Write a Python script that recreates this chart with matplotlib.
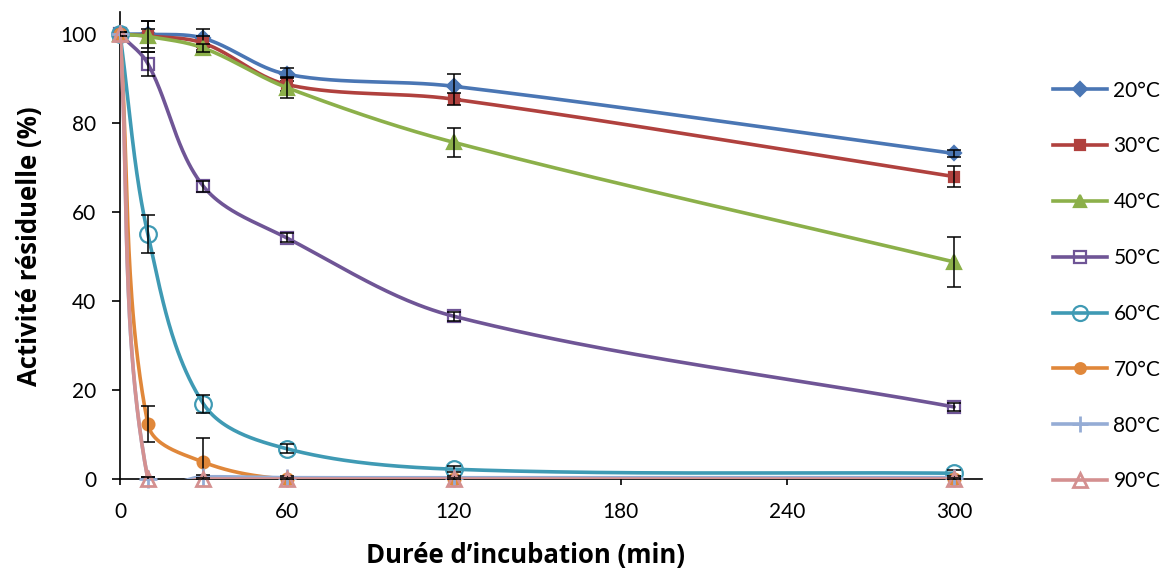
import numpy as np
import matplotlib
matplotlib.use("Agg")
import matplotlib.pyplot as plt
from matplotlib.lines import Line2D

plt.rcParams['font.family'] = ['Lato', 'DejaVu Sans']

# ---------------- data ----------------
times = [0, 10, 30, 60, 120, 300]
labels = ['20°C', '30°C', '40°C', '50°C', '60°C', '70°C', '80°C', '90°C']

act_20 = [100, 100, 99.1, 91.0, 88.3, 73.2]
act_30 = [100, 99.6, 98.0, 88.7, 85.4, 68.0]
act_40 = [100, 99.5, 96.9, 88.0, 75.7, 48.8]
act_50 = [100, 93.4, 65.8, 54.2, 36.6, 16.2]
act_60 = [100, 55.1, 16.9, 6.8, 2.2, 1.3]
act_70 = [100, 12.4, 3.8, 0.0, 0.0, 0.0]
act_80 = [100, 0.0, 0.5, 0.3, 0.3, 0.3]
act_90 = [100, 0.0, 0.0, 0.0, 0.0, 0.0]

err_20 = [0.5, 3.0, 2.0, 1.5, 2.8, 0.8]
err_30 = [0.5, 1.5, 1.5, 1.5, 1.3, 2.4]
err_40 = [0.5, 3.5, 1.0, 2.3, 3.2, 5.6]
err_50 = [0.5, 2.7, 1.3, 1.0, 1.0, 1.0]
err_60 = [0.5, 4.2, 2.0, 1.0, 0.7, 0.7]
err_70 = [0.5, 4.0, 5.5, 0.3, 0.3, 0.3]
err_80 = [0.5, 0.5, 0.3, 0.3, 0.3, 0.3]
err_90 = [0.5, 0.5, 0.3, 0.3, 0.3, 0.3]

x_ticks = [0, 60, 120, 180, 240, 300]
y_ticks = [0, 20, 40, 60, 80, 100]

series = [act_20, act_30, act_40, act_50, act_60, act_70, act_80, act_90]
errors = [err_20, err_30, err_40, err_50, err_60, err_70, err_80, err_90]

# ---------------- styles ----------------
colors = ['#4A76B4', '#B0413E', '#8CB04A', '#6F5596', '#3F9AB4', '#E0873A', '#95ACD5', '#D49090']
markers = ['D', 's', '^', 's', 'o', 'o', '+', '^']
msizes = [7.5, 7.5, 9.5, 9, 12, 8.5, 13, 10.5]
filled = [True, True, True, False, False, True, True, False]

W, H, DPI = 1166, 574, 100
fig = plt.figure(figsize=(W / DPI, H / DPI), dpi=DPI)
ax = fig.add_axes([120 / W, 1 - 479 / H, 862 / W, 467 / H])
ax.set_xlim(0, 310)
ax.set_ylim(0, 105)

# pixel scale for Excel-like smoothing
sx = 862 / 310.0
sy = 467 / 105.0


def smooth(xs, ys, n=50):
    P = np.column_stack([np.asarray(xs, float) * sx, np.asarray(ys, float) * sy])
    m = len(P)
    tang = []
    for i in range(m):
        a = P[i - 1] if i > 0 else P[i]
        b = P[i + 1] if i < m - 1 else P[i]
        d = b - a
        nrm = np.hypot(*d)
        tang.append(d / nrm if nrm > 0 else d)
    out = []
    t = np.linspace(0, 1, n)[:, None]
    for i in range(m - 1):
        p1, p2 = P[i], P[i + 1]
        L = np.hypot(*(p2 - p1))
        c1 = p1 + tang[i] * L / 3.0
        c2 = p2 - tang[i + 1] * L / 3.0
        seg = ((1 - t) ** 3) * p1 + 3 * ((1 - t) ** 2) * t * c1 + 3 * (1 - t) * t ** 2 * c2 + t ** 3 * p2
        if i > 0:
            seg = seg[1:]
        out.append(seg)
    out = np.vstack(out)
    return out[:, 0] / sx, out[:, 1] / sy


handles = []
for k in range(len(series)):
    ys = series[k]
    c = colors[k]
    z = 2 + k
    cx, cy = smooth(times, ys)
    ax.plot(cx, cy, color=c, lw=2.6, zorder=z, solid_capstyle='round')
    mfc = c if filled[k] else 'none'
    mew = 2.0 if (markers[k] == '+' or (markers[k] == '^' and not filled[k])) else 1.6
    ax.plot(times, ys, ls='none', marker=markers[k], ms=msizes[k], mfc=mfc, mec=c,
            mew=mew, zorder=z, clip_on=False)
    ax.errorbar(times, ys, yerr=errors[k], fmt='none', ecolor='black', elinewidth=1.1,
                capsize=4.7, capthick=1.1, zorder=z + 0.5)
    handles.append(Line2D([0], [0], color=c, lw=2.6, marker=markers[k], ms=msizes[k] * 0.9,
                          mfc=mfc, mec=c, mew=mew))

# axes styling
for s in ['top', 'right']:
    ax.spines[s].set_visible(False)
for s in ['left', 'bottom']:
    ax.spines[s].set_linewidth(1.2)
    ax.spines[s].set_zorder(1)
ax.set_xticks(x_ticks)
ax.set_yticks(y_ticks)
ax.tick_params(axis='y', direction='out', length=6, width=1.2, pad=11, labelsize=15)
ax.tick_params(axis='x', direction='out', length=4.5, width=1.2, pad=12, labelsize=15)

lab_font = ['Open Sans', 'DejaVu Sans']
fig.text(525 / W, 1 - 555 / H, 'Durée d’incubation (min)', fontsize=18.5, fontweight='bold',
         family=lab_font, ha='center', va='center')
fig.text(30 / W, 1 - 246 / H, 'Activité résiduelle (%)', fontsize=18.5, fontweight='bold',
         family=lab_font, ha='center', va='center', rotation=90)

fig.legend(handles, labels, loc='center left', bbox_to_anchor=(1053 / W, 1 - 286 / H),
           frameon=False, fontsize=15, handlelength=2.6, handletextpad=0.3,
           labelspacing=1.72, borderpad=0, borderaxespad=0)

fig.savefig('out.png', dpi=DPI)
